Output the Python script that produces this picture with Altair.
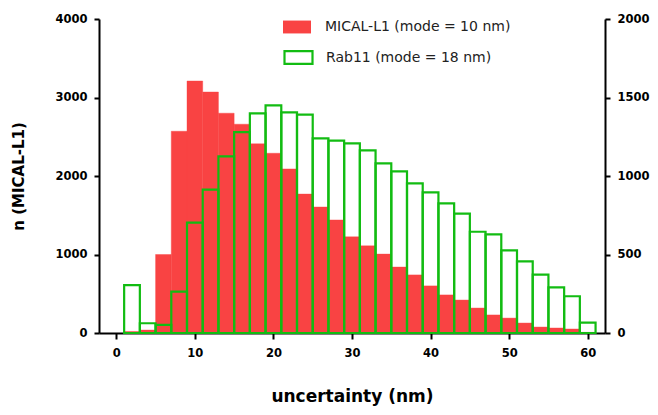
import altair as alt
import pandas as pd

# bin centres (nm), bin width 2 nm
centers = [2, 4, 6, 8, 10, 12, 14, 16, 18, 20, 22, 24, 26, 28, 30,
           32, 34, 36, 38, 40, 42, 44, 46, 48, 50, 52, 54, 56, 58, 60]
# MICAL-L1 counts (left axis)
mical = [20, 38, 1000, 2570, 3210, 3070, 2800, 2660, 2410, 2290, 2090, 1770, 1605, 1440, 1225,
         1110, 1005, 840, 740, 600, 485, 420, 318, 230, 190, 127, 76, 64, 51, 8]
# Rab11 counts (right axis)
rab = [305, 62, 52, 263, 703, 913, 1125, 1280, 1399, 1450, 1405, 1391, 1240, 1225, 1208,
       1163, 1081, 1030, 953, 896, 826, 760, 645, 628, 526, 456, 372, 291, 234, 66]

series_labels = ["MICAL-L1 (mode = 10 nm)", "Rab11 (mode = 18 nm)"]
x_ticks = [0, 10, 20, 30, 40, 50, 60]
left_ticks = [0, 1000, 2000, 3000, 4000]
right_ticks = [0, 500, 1000, 1500, 2000]

RED = "#F94343"
GREEN = "#12BC12"
FONT = "DejaVu Sans"

df = pd.DataFrame({"c": centers, "mical": mical, "rab": rab})
df["s1"] = series_labels[0]
df["s2"] = series_labels[1]

base = alt.Chart(df).transform_calculate(x0="datum.c - 1", x1="datum.c + 1")

xscale = alt.Scale(domain=[-2.2, 62.2], nice=False, zero=False)

axis_common = dict(
    domainColor="black", domainWidth=2, tickColor="black", tickWidth=2,
    labelFont=FONT, labelFontWeight="bold", labelFontSize=11.5, labelColor="black",
    titleFont=FONT, titleFontWeight="bold", titleColor="black", grid=False, format="d",
)

xaxis = alt.Axis(values=x_ticks, tickSize=6, labelPadding=8,
                 title="uncertainty (nm)", titleFontSize=17,
                 titleY=63, titleBaseline="middle", **axis_common)

sym_path = "M-1,-0.46L1,-0.46L1,0.46L-1,0.46Z"

red = base.mark_bar(stroke=RED, strokeWidth=0.4).encode(
    x=alt.X("x0:Q", scale=xscale, axis=xaxis),
    x2="x1:Q",
    y=alt.Y("mical:Q", scale=alt.Scale(domain=[0, 4000], nice=False),
            axis=alt.Axis(orient="left", values=left_ticks, tickSize=5, labelPadding=7,
                          title="n (MICAL-L1)", titleFontSize=15,
                          titleX=-81, titleY=157, titleAlign="center",
                          titleBaseline="middle", **axis_common)),
    y2=alt.datum(0),
    fill=alt.Fill("s1:N", scale=alt.Scale(domain=[series_labels[0]], range=[RED]),
                  legend=alt.Legend(title=None, orient="none", legendX=184, legendY=-6,
                                    symbolType=sym_path, symbolSize=784,
                                    symbolStrokeWidth=0, labelFont=FONT,
                                    labelFontSize=14, labelColor="#222222",
                                    labelOffset=14, labelLimit=400, padding=0)),
)

green = base.mark_bar(filled=False, stroke=GREEN, strokeWidth=2.2).encode(
    x=alt.X("x0:Q", scale=xscale, axis=xaxis),
    x2="x1:Q",
    y=alt.Y("rab:Q", scale=alt.Scale(domain=[0, 2000], nice=False),
            axis=alt.Axis(orient="right", values=right_ticks, tickSize=5, labelPadding=7,
                          title=None, **axis_common)),
    y2=alt.datum(0),
    stroke=alt.Stroke("s2:N", scale=alt.Scale(domain=[series_labels[1]], range=[GREEN]),
                      legend=alt.Legend(title=None, orient="none", legendX=184, legendY=23,
                                        symbolType=sym_path, symbolSize=784,
                                        symbolStrokeWidth=2.2, symbolFillColor="white",
                                        labelFont=FONT, labelFontSize=14,
                                        labelColor="#222222", labelOffset=12,
                                        labelLimit=400, padding=0)),
)

chart = alt.layer(red, green).resolve_scale(y="independent", fill="independent",
                                             stroke="independent").properties(
    width=506, height=314,
    autosize=alt.AutoSizeParams(type="none"),
    padding={"left": 91, "top": 11, "right": 45, "bottom": 74},
).configure_view(stroke=None)

chart.save("out.html", embed_options={"renderer": "svg", "actions": False})
